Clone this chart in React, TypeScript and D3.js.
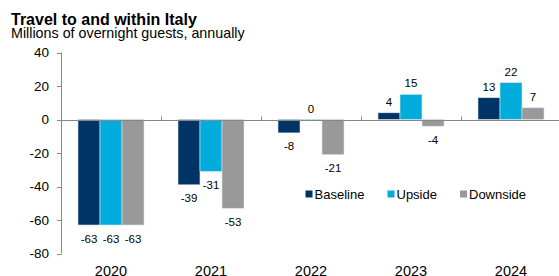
import React from "react";
import * as d3 from "d3";

const years = ["2020", "2021", "2022", "2023", "2024"];
const seriesNames = ["Baseline", "Upside", "Downside"];
const baseline = [-63, -39, -8, 4, 13];
const upside = [-63, -31, 0, 15, 22];
const downside = [-63, -53, -21, -4, 7];
const yTicks = [40, 20, 0, -20, -40, -60, -80];
const colors = ["#003366", "#00ACDB", "#999999"];

const W = 559;
const H = 276;
const FONT = "'Liberation Sans', Arial, sans-serif";

export default function App() {
  const series = [baseline, upside, downside];
  const x = d3.scaleBand<string>().domain(years).range([61, 561]).paddingInner(0).paddingOuter(0);
  const inner = d3.scaleBand<string>().domain(seriesNames).range([17, 83]);
  const y = d3.scaleLinear().domain([-80, 40]).range([253.5, 52.5]);
  const y0 = y(0);

  return (
    <svg width={W} height={H} style={{ position: "absolute", left: 0, top: 0 }} fontFamily={FONT}>
      <rect width={W} height={H} fill="#fff" />
      <text x={11} y={24.5} fontSize={16} fontWeight="bold" fill="#000">Travel to and within Italy</text>
      <text x={11} y={38} fontSize={14.3} fill="#000">Millions of overnight guests, annually</text>

      {/* y axis */}
      <line x1={61.5} x2={61.5} y1={y(40)} y2={y(-80)} stroke="#888" strokeWidth={1} />
      {yTicks.map((t) => (
        <g key={t}>
          <line x1={57} x2={61.5} y1={Math.round(y(t)) + 0.5} y2={Math.round(y(t)) + 0.5} stroke="#888" />
          <text x={49} y={y(t) + 4.8} fontSize={13.5} textAnchor="end" fill="#000">{t}</text>
        </g>
      ))}

      {/* bars */}
      {years.map((yr, i) => (
        <g key={yr}>
          {series.map((s, j) => {
            const v = s[i];
            const bx = (x(yr) as number) + (inner(seriesNames[j]) as number);
            const bw = inner.bandwidth();
            const top = Math.min(y(v), y0);
            const h = Math.abs(y(v) - y0);
            return (
              <g key={j}>
                <rect x={bx} y={top} width={bw} height={Math.max(h, 0.8)} fill={colors[j]} stroke="#dde4ec" strokeWidth={0.6} />
                <text
                  x={bx + bw / 2}
                  y={v >= 0 ? y(v) - 7 : y(v) + 17.5}
                  fontSize={11.5}
                  textAnchor="middle"
                  fill="#000"
                >
                  {v}
                </text>
              </g>
            );
          })}
        </g>
      ))}

      {/* zero axis */}
      <line x1={61} x2={W} y1={Math.round(y0) + 0.5} y2={Math.round(y0) + 0.5} stroke="#888" />
      {years.slice(1).map((yr) => (
        <line key={yr} x1={(x(yr) as number) + 0.5} x2={(x(yr) as number) + 0.5} y1={Math.round(y0) + 0.5} y2={Math.round(y0) - 3.5} stroke="#888" />
      ))}

      {/* x labels */}
      {years.map((yr) => (
        <text key={yr} x={(x(yr) as number) + x.bandwidth() / 2} y={276} fontSize={14.5} textAnchor="middle" fill="#000">{yr}</text>
      ))}

      {/* legend */}
      {seriesNames.map((n, j) => {
        const lx = [305.5, 387.5, 460][j];
        return (
          <g key={n}>
            <rect x={lx} y={190.5} width={7} height={7} fill={colors[j]} />
            <text x={lx + 9} y={198.5} fontSize={13} fill="#000">{n}</text>
          </g>
        );
      })}
    </svg>
  );
}
